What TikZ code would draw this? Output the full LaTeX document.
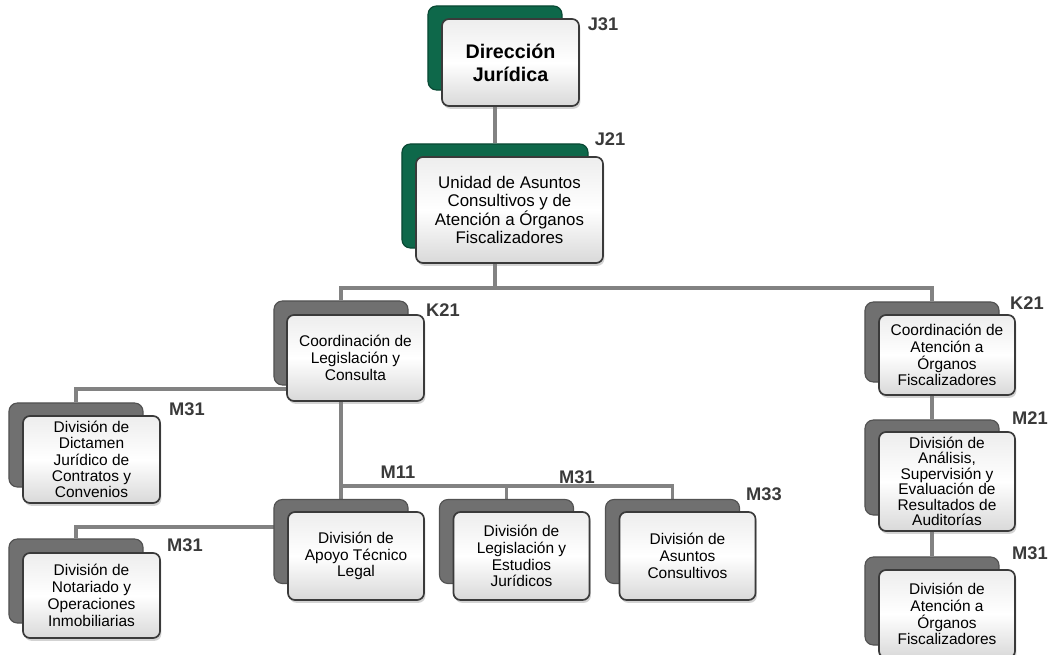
\documentclass[tikz,border=0pt]{standalone}
\usepackage{fontspec}
\setmainfont{Liberation Sans}
\usepackage{tikz}
\usetikzlibrary{positioning, backgrounds, shadows, calc}

\definecolor{deepgreen}{RGB}{14,104,74}
\definecolor{greenedge}{RGB}{9,72,51}
\definecolor{backgray}{RGB}{112,112,112}
\definecolor{backedge}{RGB}{82,82,82}
\definecolor{edgegray}{RGB}{58,58,58}
\definecolor{linegray}{RGB}{130,130,130}
\definecolor{codegray}{RGB}{58,58,58}

\begin{document}
\begin{tikzpicture}[
    x=0.025cm, y=-0.025cm,
    unitbox/.style={rectangle, rounded corners=5pt, draw=edgegray, line width=1.2pt, top color=gray!14, bottom color=gray!30, middle color=white, drop shadow={shadow xshift=1pt, shadow yshift=-2pt, opacity=0.35}, align=center, inner sep=1pt, text=black, font=\fontsize{11}{12}\selectfont, minimum width=3.425cm, minimum height=2.175cm},
    greyback/.style={rectangle, rounded corners=6pt, fill=backgray, draw=backedge, line width=0.8pt, minimum width=3.35cm, minimum height=2.1cm},
    greenback/.style={greyback, fill=deepgreen, draw=greenedge},
    code/.style={font=\fontsize{13}{13}\selectfont\bfseries, text=codegray},
    link/.style={draw=linegray, line width=2.2pt}
]
\useasboundingbox (0,0) rectangle (1057,655);

% Back plates
\node (dirb) [greenback] at (495,48) {};
\node (unib) [greenback, minimum width=4.65cm, minimum height=2.6cm] at (495,196) {};
\node (clb) [greyback] at (341,343) {};
\node (dib) [greyback] at (76,445) {};
\node (nob) [greyback] at (76,581) {};
\node (apb) [greyback] at (341,541.5) {};
\node (leb) [greyback] at (506.5,541.5) {};
\node (asb) [greyback] at (672.5,541.5) {};
\node (cab) [greyback, minimum height=2.0cm] at (932,342) {};
\node (anb) [greyback, minimum height=2.375cm] at (932,467.5) {};
\node (atb) [greyback, minimum height=2.2cm] at (932,601) {};

% Units
\node (dir) [unitbox, font=\fontsize{14}{16.5}\selectfont\bfseries] at (510.5,62.5) {Dirección\\Jurídica};
\node (uni) [unitbox, minimum width=4.675cm, minimum height=2.65cm, font=\fontsize{12}{12.4}\selectfont] at (509.5,210) {Unidad de Asuntos\\Consultivos y de\\Atención a Órganos\\Fiscalizadores};
\node (cl) [unitbox, minimum height=2.15cm] at (355.5,358) {Coordinación de\\Legislación y\\Consulta};
\node (di) [unitbox, font=\fontsize{11}{11.6}\selectfont] at (91.5,459.5) {División de\\Dictamen\\Jurídico de\\Contratos y\\Convenios};
\node (no) [unitbox, minimum height=2.125cm] at (91.5,595.5) {División de\\Notariado y\\Operaciones\\Inmobiliarias};
\node (ap) [unitbox, minimum width=3.4cm, minimum height=2.2cm] at (356,556) {División de\\Apoyo Técnico\\Legal};
\node (le) [unitbox, minimum width=3.4cm, minimum height=2.2cm] at (521.5,556) {División de\\Legislación y\\Estudios\\Jurídicos};
\node (as) [unitbox, minimum width=3.4cm, minimum height=2.2cm] at (687.5,556) {División de\\Asuntos\\Consultivos};
\node (ca) [unitbox, minimum width=3.4cm, minimum height=2.0cm] at (947,355) {Coordinación de\\Atención a\\Órganos\\Fiscalizadores};
\node (an) [unitbox, minimum width=3.4cm, minimum height=2.475cm, font=\fontsize{11}{11}\selectfont] at (947,481.5) {División de\\Análisis,\\Supervisión y\\Evaluación de\\Resultados de\\Auditorías};
\node (at) [unitbox, minimum width=3.4cm, minimum height=2.2cm] at (947,614) {División de\\Atención a\\Órganos\\Fiscalizadores};

% Codes
\node (kdir) [code] at (603,24) {J31};
\node (kuni) [code] at (610,139) {J21};
\node (kcl) [code] at (443,310) {K21};
\node (kdi) [code] at (187,409) {M31};
\node (kno) [code] at (185,545) {M31};
\node (kap) [code] at (398,472) {M11};
\node (kle) [code] at (577,477) {M31};
\node (kas) [code] at (764,494) {M33};
\node (kca) [code] at (1027,303) {K21};
\node (kan) [code] at (1030,418) {M21};
\node (kat) [code] at (1030,553) {M31};

% Connections
\begin{scope}[on background layer]
\coordinate (bus1) at (495,288);
\coordinate (bus2) at (341,486);
\coordinate (jdi) at (341,389);
\coordinate (jno) at (341,527);
\draw [link] (dirb) -- (unib);
\draw [link] (unib) -- (bus1);
\draw [link] (bus1) -| (clb);
\draw [link] (bus1) -| (cab);
\draw [link] (clb) -- (apb);
\draw [link] (jdi) -| (dib);
\draw [link] (jno) -| (nob);
\draw [link] (bus2) -| (leb);
\draw [link] (bus2) -| (asb);
\draw [link] (cab) -- (anb);
\draw [link] (anb) -- (atb);
\end{scope}

\end{tikzpicture}
\end{document}
